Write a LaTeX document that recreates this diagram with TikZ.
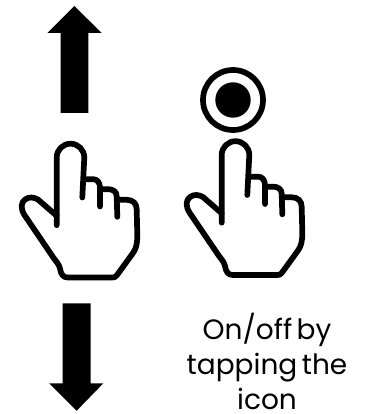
\documentclass[tikz,border=0pt]{standalone}
\usepackage{fontspec}
\setmainfont[WordSpace=0.6]{Poppins}
\tikzset{handline/.style={line width=5.7pt,line cap=round,line join=round}}

\begin{document}
\begin{tikzpicture}[x=1pt,y=-1pt]
\useasboundingbox (0,0) rectangle (370,414);
% Arrows up and down
\fill (74.3,6)--(101.7,33)--(88.3,33)--(88.3,113)--(60.7,113)--(60.7,33)--(47.3,33)--cycle;
\fill (76.7,410.7)--(103.3,383.3)--(90.7,383.3)--(90.7,303.3)--(62.7,303.3)--(62.7,383.3)--(49.3,383.3)--cycle;

% Left hand
\begin{scope}[xshift=-165pt,yshift=-2.5pt]
\draw[handline] (221.7,222.7)--(221.7,155) arc[start angle=180,end angle=360,radius=13.8]--(247.3,195);
\draw[handline] (250,176.7)--(258.3,176.7) .. controls (262,176.7) and (265,180) .. (265,185)--(265,204);
\draw[handline] (265,186.7)--(273.3,186.7) .. controls (278,186.7) and (281.7,189) .. (281.7,194)--(282.3,214.3);
\draw[handline] (283.3,197.3)--(291.7,197.3) .. controls (298,197.3) and (301.7,201) .. (301.7,207)--(302.3,233) .. controls (302.3,248) and (298,250) .. (293.3,257)--(281.7,273) .. controls (280,275) and (279,275) .. (277,275)--(233,275) .. controls (228,275) and (226,272) .. (225,266) .. controls (224,262) and (222,260) .. (219,256)--(190,213.3) .. controls (185,206) and (186,200) .. (190,197) .. controls (194,194) and (199,194.5) .. (203.3,197.3)--(221.7,213.3);
\end{scope}

% Right hand
\begin{scope}
\draw[handline] (221.7,222.7)--(221.7,155) arc[start angle=180,end angle=360,radius=13.8]--(247.3,195);
\draw[handline] (250,176.7)--(258.3,176.7) .. controls (262,176.7) and (265,180) .. (265,185)--(265,204);
\draw[handline] (265,186.7)--(273.3,186.7) .. controls (278,186.7) and (281.7,189) .. (281.7,194)--(282.3,214.3);
\draw[handline] (283.3,197.3)--(291.7,197.3) .. controls (298,197.3) and (301.7,201) .. (301.7,207)--(302.3,233) .. controls (302.3,248) and (298,250) .. (293.3,257)--(281.7,273) .. controls (280,275) and (279,275) .. (277,275)--(233,275) .. controls (228,275) and (226,272) .. (225,266) .. controls (224,262) and (222,260) .. (219,256)--(190,213.3) .. controls (185,206) and (186,200) .. (190,197) .. controls (194,194) and (199,194.5) .. (203.3,197.3)--(221.7,213.3);
\end{scope}

% Tap icon
\draw[line width=5.7pt] (233,100) circle[radius=30];
\fill (233,100) circle[radius=17.7];

% Caption
\node[font=\fontsize{28}{35}\selectfont,align=center,anchor=base,inner sep=0pt] (caption) at (267,409) {On/off by\\tapping the\\icon};
\end{tikzpicture}
\end{document}
